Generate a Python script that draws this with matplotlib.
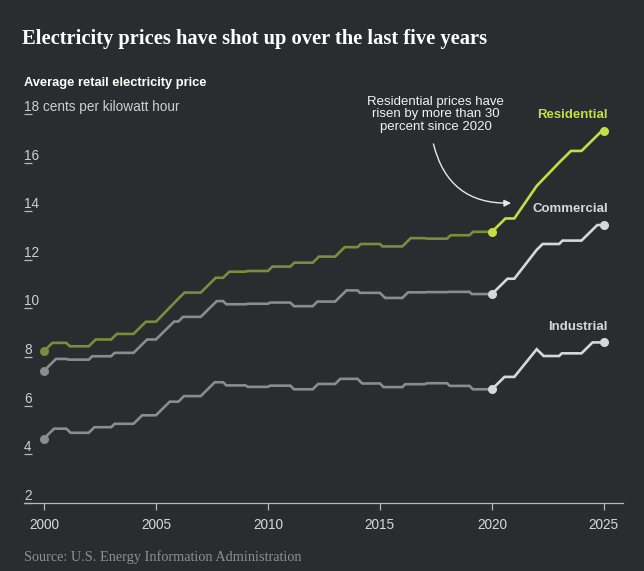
import matplotlib
matplotlib.use("Agg")
import matplotlib.pyplot as plt
from matplotlib.patches import FancyArrowPatch
import matplotlib.transforms as mtransforms

# === data (cents per kilowatt hour, annual average) ===
years = list(range(2000, 2026))
residential = [8.24, 8.58, 8.44, 8.72, 8.95, 9.45, 10.40, 10.65, 11.26, 11.51,
               11.54, 11.72, 11.88, 12.13, 12.52, 12.65, 12.55, 12.89, 12.87, 13.01,
               13.15, 13.70, 15.04, 16.00, 16.48, 17.30]
commercial = [7.43, 7.92, 7.89, 8.03, 8.17, 8.72, 9.46, 9.65, 10.30, 10.17,
              10.19, 10.24, 10.09, 10.28, 10.74, 10.64, 10.43, 10.66, 10.67, 10.68,
              10.59, 11.22, 12.41, 12.65, 12.79, 13.43]
industrial = [4.64, 5.05, 4.88, 5.11, 5.25, 5.60, 6.16, 6.39, 6.96, 6.83,
              6.77, 6.82, 6.67, 6.89, 7.10, 6.91, 6.76, 6.88, 6.92, 6.81,
              6.67, 7.18, 8.32, 8.04, 8.15, 8.60]
series_names = ["Residential", "Commercial", "Industrial"]
y_ticks = [2, 4, 6, 8, 10, 12, 14, 16, 18]
x_ticks = [2000, 2005, 2010, 2015, 2020, 2025]
split_year = 2020

BG = "#2a2d30"
SANS = ["Liberation Sans", "DejaVu Sans"]
SERIF = ["Liberation Serif", "DejaVu Serif"]


def ramp_steps(xs, vals, rate=1.1):
    # each year's value is reached with a ramp whose length grows with the change
    px, py = [xs[0]], [vals[0]]
    for i in range(1, len(xs)):
        d = min(1.0, max(0.1, rate * abs(vals[i] - vals[i - 1])))
        px += [xs[i - 1] + d, xs[i]]
        py += [vals[i], vals[i]]
    return px, py


fig = plt.figure(figsize=(6.44, 5.71), dpi=100, facecolor=BG)
ax = fig.add_axes([0.0373, 0.1195, 0.930, 0.700])
ax.set_facecolor(BG)

styles = {
    "Residential": (residential, "#7b8d3c", "#c5dc45"),
    "Commercial": (commercial, "#8a8c8e", "#d6d7d8"),
    "Industrial": (industrial, "#8a8c8e", "#d6d7d8"),
}

for name in series_names:
    vals, dim, bright = styles[name]
    px, py = ramp_steps(years, vals)
    k = px.index(split_year)
    ax.plot(px[:k + 1], py[:k + 1], color=dim, lw=1.9, solid_joinstyle="miter", zorder=2)
    ax.plot(px[k:], py[k:], color=bright, lw=1.9, solid_joinstyle="miter", zorder=3)
    ax.plot(years[0], vals[0], "o", color=dim, ms=6.5, mec="none", zorder=4)
    i20 = years.index(split_year)
    ax.plot(years[i20], vals[i20], "o", color=bright, ms=6.5, mec="none", zorder=4)
    ax.plot(years[-1], vals[-1], "o", color=bright, ms=6.5, mec="none", zorder=4)
    ax.annotate(name, xy=(years[-1], vals[-1]), xytext=(3, 7), textcoords="offset points",
                ha="right", va="bottom", fontsize=9.5, fontweight="bold",
                color=bright, family=SANS)

ax.set_xlim(1999.11, 2025.85)
ax.set_ylim(2, 18.45)

for s in ["top", "right", "left"]:
    ax.spines[s].set_visible(False)
ax.spines["bottom"].set_color("#b8b9ba")
ax.spines["bottom"].set_linewidth(0.9)

ax.set_xticks(x_ticks)
ax.set_xticklabels([str(x) for x in x_ticks], fontsize=9.8, color="#d8d8d8", family=SANS)
ax.tick_params(axis="x", length=5, width=0.9, color="#b8b9ba", pad=6)

ax.set_yticks(y_ticks)
ax.tick_params(axis="y", direction="in", length=6, width=0.9, color="#b8b9ba", labelleft=False)
trans = mtransforms.blended_transform_factory(ax.transAxes, ax.transData)
for v in y_ticks:
    lab = f"{v} cents per kilowatt hour" if v == y_ticks[-1] else str(v)
    ax.text(0.0, v, lab, transform=trans, ha="left", va="bottom", fontsize=9.8,
            color="#cfcfcf", family=SANS)

# annotation
ax.text(2017.5, 18.75, "Residential prices have\nrisen by more than 30\npercent since 2020",
        ha="center", va="top", fontsize=9.5, color="#f2f2f2", family=SANS,
        linespacing=1.05, clip_on=False)
arrow = FancyArrowPatch((2017.36, 16.88), (2020.98, 14.34),
                        connectionstyle="arc3,rad=0.42", arrowstyle="-|>,head_length=4,head_width=2",
                        color="#e8e8e8", lw=1.0, clip_on=False)
ax.add_patch(arrow)

fig.text(0.034, 0.923, "Electricity prices have shot up over the last five years",
         fontsize=14.8, fontweight="bold", color="#ffffff", family=SERIF, va="baseline")
fig.text(0.037, 0.855, "Average retail electricity price", fontsize=9.3, fontweight="bold",
         color="#ffffff", family=SANS, va="center")
fig.text(0.037, 0.025, "Source: U.S. Energy Information Administration", fontsize=10.3,
         color="#8e9092", family=SERIF, va="center")

fig.savefig("out.png", dpi=100, facecolor=BG)
